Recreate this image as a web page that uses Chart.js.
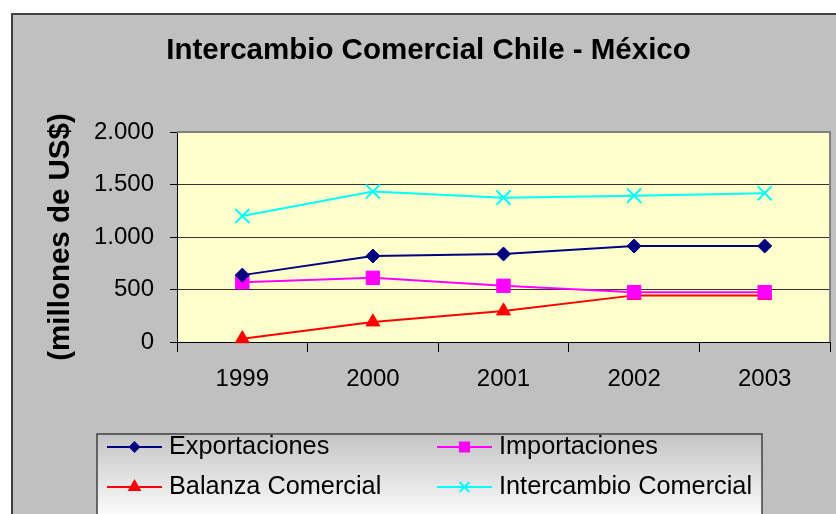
<!DOCTYPE html>
<html><head><meta charset="utf-8">
<script src="https://cdn.jsdelivr.net/npm/chart.js@4/dist/chart.umd.min.js"></script>
<style>html,body{margin:0;padding:0;background:#fff;overflow:hidden}canvas{display:block}</style>
</head><body>
<canvas id="c" width="836" height="514"></canvas>
<script>
// ---- data ----
const years = ['1999', '2000', '2001', '2002', '2003'];
const exportaciones = [637, 819, 838, 914, 914];
const importaciones = [570, 611, 535, 475, 475];
const balanzaComercial = [31, 191, 296, 444, 444];
const intercambioComercial = [1200, 1433, 1375, 1394, 1417];
const yTickLabels = ['0', '500', '1.000', '1.500', '2.000'];
const seriesNames = ['Exportaciones', 'Importaciones', 'Balanza Comercial', 'Intercambio Comercial'];
const chartTitle = 'Intercambio Comercial Chile - México';
const yAxisTitle = '(millones de US$)';

const FONT = '"Liberation Sans", Arial, Helvetica, sans-serif';
Chart.defaults.font.family = FONT;
Chart.defaults.color = '#000';

const framePlugin = {
  id: 'frame',
  beforeDraw(chart) {
    const { ctx, chartArea: a } = chart;
    ctx.save();
    ctx.fillStyle = '#ffffff';
    ctx.fillRect(0, 0, chart.width, chart.height);
    ctx.fillStyle = '#c0c0c0';
    ctx.fillRect(12, 14, chart.width, chart.height);
    ctx.strokeStyle = '#404040';
    ctx.lineWidth = 2;
    ctx.strokeRect(12, 14, chart.width + 20, chart.height + 20);
    ctx.fillStyle = '#ffffcc';
    ctx.fillRect(a.left, a.top, a.right - a.left, a.bottom - a.top);
    ctx.restore();
  },
  beforeDatasetsDraw(chart) {
    const { ctx, chartArea: a } = chart;
    ctx.save();
    ctx.strokeStyle = '#808080';
    ctx.lineWidth = 2;
    ctx.beginPath();
    ctx.moveTo(a.left, a.top);
    ctx.lineTo(a.right, a.top);
    ctx.lineTo(a.right, a.bottom);
    ctx.stroke();
    ctx.restore();
  }
};

const legendRadius = [4.5, 6.5, 6, 7];
const legendPlugin = {
  id: 'boxLegend',
  afterDraw(chart) {
    const ctx = chart.ctx;
    const x0 = 97, y0 = 434, x1 = 762, y1 = 540;
    ctx.save();
    const g = ctx.createLinearGradient(0, y0, 0, 514);
    g.addColorStop(0, '#c4c4c4');
    g.addColorStop(1, '#fafafa');
    ctx.fillStyle = g;
    ctx.fillRect(x0, y0, x1 - x0, y1 - y0);
    ctx.strokeStyle = '#404040';
    ctx.lineWidth = 1.5;
    ctx.strokeRect(x0, y0, x1 - x0, y1 - y0);
    const pos = [[107, 447], [437, 447], [107, 487], [437, 487]];
    chart.data.datasets.forEach((ds, i) => {
      const [lx, ly] = pos[i];
      ctx.strokeStyle = ds.borderColor;
      ctx.lineWidth = 2;
      ctx.beginPath();
      ctx.moveTo(lx, ly);
      ctx.lineTo(lx + 55, ly);
      ctx.stroke();
      ctx.fillStyle = ds.pointBackgroundColor;
      ctx.strokeStyle = ds.pointBorderColor;
      Chart.helpers.drawPoint(ctx, {
        pointStyle: ds.pointStyle, radius: legendRadius[i], borderWidth: ds.pointBorderWidth || 1, rotation: 0
      }, lx + 27.5, ly);
      ctx.fillStyle = '#000';
      ctx.font = '25.3px ' + FONT;
      ctx.textBaseline = 'middle';
      ctx.textAlign = 'left';
      ctx.fillText(ds.label, lx + 62, ly);
    });
    ctx.restore();
  }
};

function series(name, data, color, style, radius, bw) {
  return {
    label: name, data: data,
    borderColor: color, backgroundColor: color,
    pointBackgroundColor: color, pointBorderColor: color,
    pointStyle: style, pointRadius: radius, pointBorderWidth: bw,
    borderWidth: 2, tension: 0, clip: false
  };
}

new Chart(document.getElementById('c'), {
  type: 'line',
  data: {
    labels: years,
    datasets: [
      series(seriesNames[0], exportaciones, '#000080', 'rectRot', 7, 1),
      series(seriesNames[1], importaciones, '#ff00ff', 'rect', 9.5, 1),
      series(seriesNames[2], balanzaComercial, '#ff0000', 'triangle', 8, 1),
      series(seriesNames[3], intercambioComercial, '#00ffff', 'crossRot', 10, 2)
    ]
  },
  options: {
    responsive: false,
    animation: false,
    devicePixelRatio: 1,
    layout: { autoPadding: false, padding: { left: 27, right: 6, top: 0, bottom: 112 } },
    plugins: {
      legend: { display: false },
      tooltip: { enabled: false },
      title: {
        display: true, text: chartTitle, color: '#000',
        font: { size: 29.5, weight: 'bold', lineHeight: 1.2 },
        padding: { top: 33.3, bottom: 63.3 }
      }
    },
    scales: {
      x: {
        type: 'category', offset: true,
        grid: { offset: true, drawOnChartArea: false, drawTicks: true, tickLength: 10, color: '#000', tickColor: '#000' },
        border: { display: true, color: '#000', width: 1 },
        ticks: { color: '#000', font: { size: 24 }, padding: 13, maxRotation: 0, autoSkip: false },
        afterFit(s) { s.height = 60; s.paddingLeft = 0; s.paddingRight = 0; }
      },
      y: {
        min: 0, max: 2000,
        ticks: { stepSize: 500, color: '#000', font: { size: 24 }, padding: 16,
          callback: (v) => yTickLabels[Math.round(v / 500)] },
        grid: { color: '#333', tickColor: '#000', tickLength: 7, lineWidth: 1 },
        border: { color: '#000', width: 1 },
        title: { display: true, text: yAxisTitle, color: '#000',
          font: { size: 29.5, weight: 'bold', lineHeight: 1.2 }, padding: { top: 16.3, bottom: 0 } },
        afterFit(s) { s.width = 150; s.paddingTop = 0; s.paddingBottom = 0; }
      }
    }
  },
  plugins: [framePlugin, legendPlugin]
});
</script>
</body></html>
